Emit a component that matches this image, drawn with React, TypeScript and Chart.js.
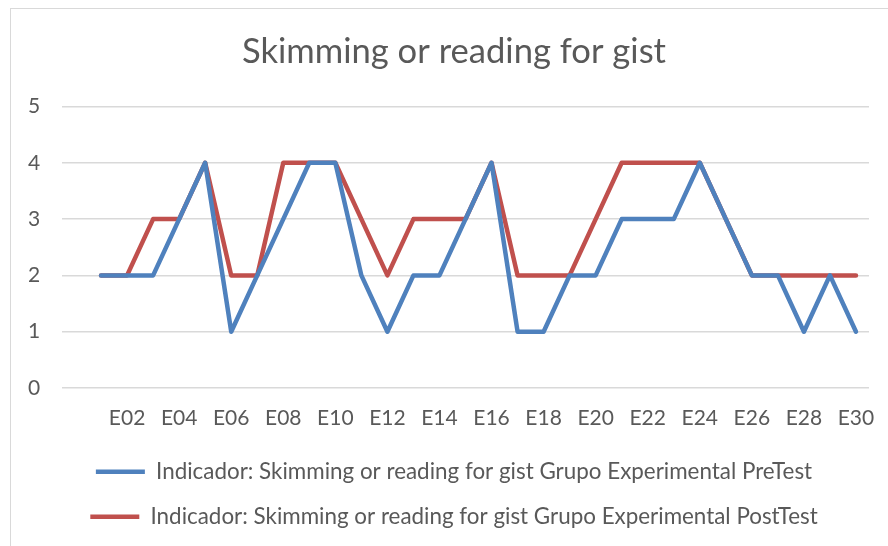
import React, { useEffect, useRef } from "react";
import { Chart, registerables } from "chart.js";

Chart.register(...registerables);

const categories = [
  "E01", "E02", "E03", "E04", "E05", "E06", "E07", "E08", "E09", "E10",
  "E11", "E12", "E13", "E14", "E15", "E16", "E17", "E18", "E19", "E20",
  "E21", "E22", "E23", "E24", "E25", "E26", "E27", "E28", "E29", "E30",
];

const preTest = [2, 2, 2, 3, 4, 1, 2, 3, 4, 4, 2, 1, 2, 2, 3, 4, 1, 1, 2, 2, 3, 3, 3, 4, 3, 2, 2, 1, 2, 1];
const postTest = [2, 2, 3, 3, 4, 2, 2, 4, 4, 4, 3, 2, 3, 3, 3, 4, 2, 2, 2, 3, 4, 4, 4, 4, 3, 2, 2, 2, 2, 2];

const seriesNames = [
  "Indicador: Skimming or reading for gist Grupo Experimental PreTest",
  "Indicador: Skimming or reading for gist Grupo Experimental PostTest",
];
const titleText = "Skimming or reading for gist";
const yTicks = [0, 1, 2, 3, 4, 5];

const FONT = "Lato, 'Liberation Sans', sans-serif";
const TEXT = "#595959";

export default function App() {
  const ref = useRef<HTMLCanvasElement | null>(null);

  useEffect(() => {
    const canvas = ref.current;
    if (!canvas) return;
    const labels = ["", ...categories];
    const chart = new Chart(canvas, {
      type: "line",
      data: {
        labels,
        datasets: [
          {
            label: seriesNames[0],
            data: [null, ...preTest],
            borderColor: "#4F81BD",
            backgroundColor: "#4F81BD",
            borderWidth: 4.5,
            pointRadius: 0,
            pointStyle: "line",
            borderCapStyle: "round",
            borderJoinStyle: "round",
            tension: 0,
          },
          {
            label: seriesNames[1],
            data: [null, ...postTest],
            borderColor: "#C0504D",
            backgroundColor: "#C0504D",
            borderWidth: 4.5,
            pointRadius: 0,
            pointStyle: "line",
            borderCapStyle: "round",
            borderJoinStyle: "round",
            tension: 0,
          },
        ],
      },
      options: {
        responsive: false,
        animation: false,
        layout: { padding: { left: 28, right: 32, top: 0, bottom: 9 } },
        plugins: {
          title: {
            display: true,
            text: titleText,
            color: TEXT,
            font: { family: FONT, size: 34.6, weight: "normal" },
            padding: { top: 22, bottom: 34 },
          },
          legend: {
            display: true,
            position: "bottom",
            labels: {
              color: TEXT,
              font: { family: FONT, size: 22.4 },
              usePointStyle: true,
              pointStyle: "line",
              pointStyleWidth: 49,
              boxHeight: 5,
              padding: 22.6,
            },
          },
          tooltip: { enabled: false },
        },
        scales: {
          x: {
            type: "category",
            offset: true,
            afterFit: (s: any) => {
              s.height = 50;
            },
            grid: { display: false, drawTicks: false },
            border: { display: false },
            ticks: {
              autoSkip: false,
              maxRotation: 0,
              minRotation: 0,
              padding: 18,
              color: TEXT,
              font: { family: FONT, size: 21 },
              callback: (_v: any, i: number) => (i % 2 === 0 ? labels[i] : ""),
            },
          },
          y: {
            min: 0,
            max: 5,
            afterFit: (s: any) => {
              s.width = 23;
            },
            afterBuildTicks: (s: any) => {
              s.ticks = yTicks.map((v) => ({ value: v }));
            },
            grid: { color: "#d9d9d9", lineWidth: 1.5, drawTicks: false },
            border: { display: false },
            ticks: {
              mirror: true,
              padding: -34,
              color: TEXT,
              font: { family: FONT, size: 21 },
            },
          },
        },
      },
    });
    return () => chart.destroy();
  }, []);

  return (
    <div
      style={{
        position: "fixed",
        left: 0,
        top: 0,
        width: 888,
        height: 546,
        overflow: "hidden",
        background: "#ffffff",
      }}
    >
      <div
        style={{
          position: "absolute",
          left: 10,
          top: 8,
          width: 900,
          height: 560,
          borderLeft: "1px solid #d9d9d9",
          borderTop: "1px solid #d9d9d9",
          background: "#ffffff",
        }}
      >
        <canvas ref={ref} width={890} height={538} style={{ display: "block" }} />
      </div>
    </div>
  );
}
